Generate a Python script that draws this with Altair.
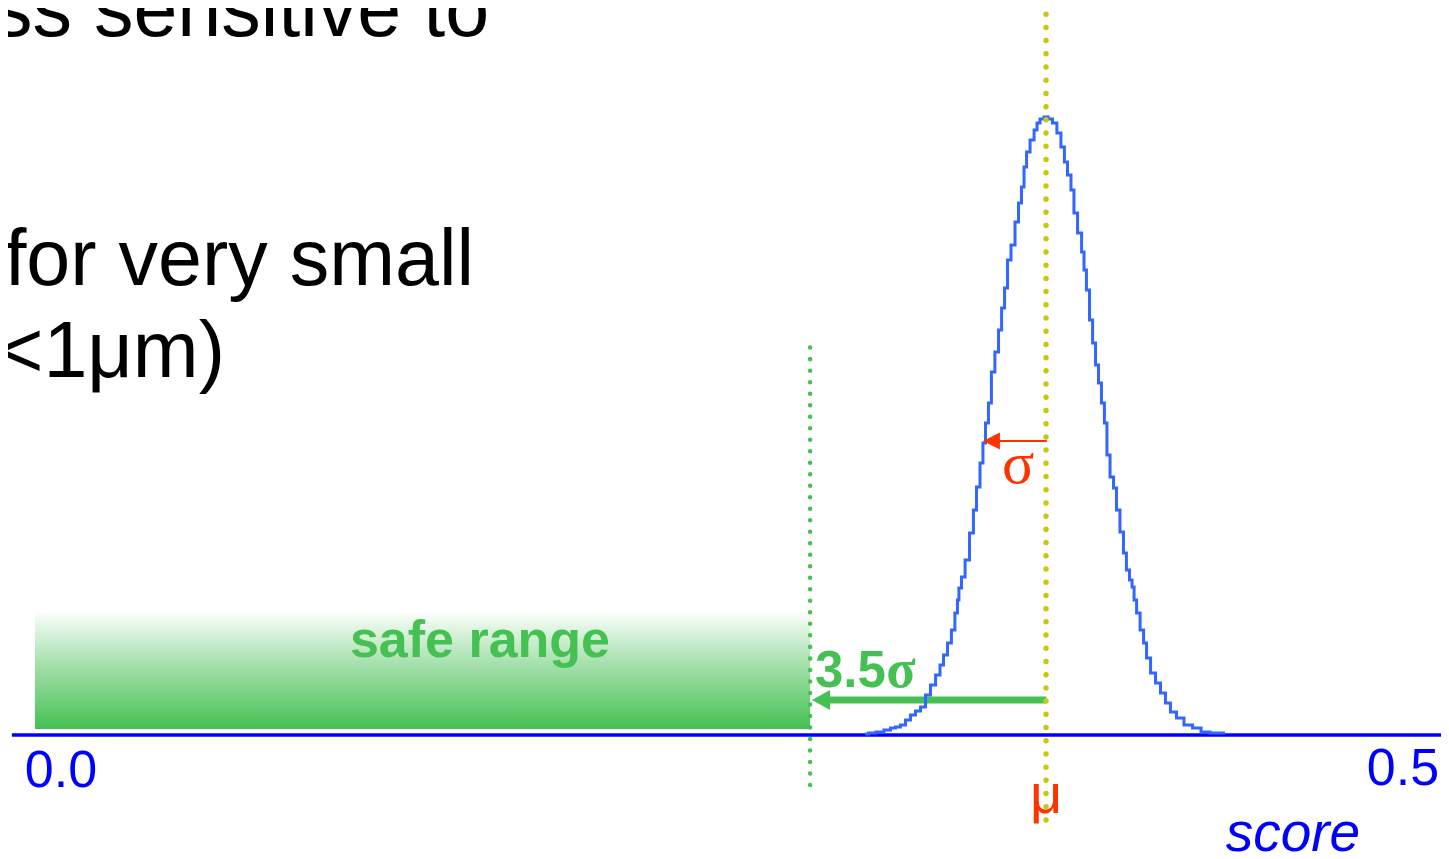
import altair as alt
import pandas as pd

# ---- histogram (score, count) ----
score = [0.2996, 0.3022, 0.3051, 0.3081, 0.3100, 0.3118, 0.3137, 0.3156, 0.3174, 0.3193,
         0.3212, 0.3230, 0.3249, 0.3268, 0.3282, 0.3294, 0.3312, 0.3323, 0.3338, 0.3342,
         0.3349, 0.3361, 0.3376, 0.3394, 0.3405, 0.3417, 0.3431, 0.3439, 0.3450, 0.3461,
         0.3472, 0.3487, 0.3499, 0.3510, 0.3521, 0.3532, 0.3547, 0.3562, 0.3573, 0.3584,
         0.3592, 0.3603, 0.3618, 0.3633, 0.3640, 0.3655, 0.3670,
         0.3685, 0.3703, 0.3718, 0.3733, 0.3744, 0.3756, 0.3770, 0.3778, 0.3797, 0.3808,
         0.3815, 0.3826, 0.3838, 0.3849, 0.3860, 0.3871, 0.3882, 0.3893, 0.3901, 0.3916,
         0.3927, 0.3938, 0.3953, 0.3964, 0.3975, 0.3987, 0.3994, 0.4002, 0.4013, 0.4028,
         0.4039, 0.4050, 0.4069, 0.4087, 0.4106, 0.4124, 0.4143, 0.4169, 0.4199, 0.4233,
         0.4262, 0.4300, 0.4337]
count = [1, 2, 3, 5, 7, 8, 10, 15, 20, 24,
         28, 40, 50, 60, 70, 80, 92, 105, 122, 135,
         147, 158, 175, 202, 225, 248, 272, 292, 312, 332,
         363, 383, 405, 427, 447, 475, 490, 513, 532, 548,
         568, 583, 595, 605, 612, 616, 618,
         616, 612, 602, 588, 573, 560, 545, 522, 502, 483,
         465, 445, 415, 392, 370, 352, 332, 312, 280, 258,
         247, 225, 203, 182, 165, 155, 148, 135, 122, 105,
         92, 77, 62, 52, 42, 32, 23, 17, 10, 7,
         3, 2, 2]

# ---- reference values ----
mu = 0.3670
safe_limit = 0.2791
sigma_tip = 0.3435
sigma_tail = 0.3491
arrow_tip = 0.2798
arrow_tail = 0.2850

tick_values = [0.0, 0.5]
tick_labels = ["0.0", "0.5"]

# slide text (partly cut off at the left / top)
slide_lines = ["ss sensitive to", "for very small", "<1\u03bcm)"]
slide_x = [0.1595, 0.1539, 0.0611]
slide_y = [699, 450, 358]

X_DOMAIN = [-0.019747, 0.514158]
Y_DOMAIN = [-124, 727]

GREEN = "#45c153"
BLUE_AXIS = "#0000ff"
CURVE = "#3366ff"
YELLOW = "#c8c814"
RED = "#ff3300"

xs = alt.Scale(domain=X_DOMAIN, nice=False, zero=False)
ys = alt.Scale(domain=Y_DOMAIN, nice=False, zero=False)


def X(f):
    return alt.X(f, type="quantitative", scale=xs, axis=None)


def Y(f):
    return alt.Y(f, type="quantitative", scale=ys, axis=None)


hist = pd.DataFrame({"score": score, "count": count})

# safe range gradient box
safe_df = pd.DataFrame({"x": [-0.0097], "x2": [safe_limit], "y": [6], "y2": [125]})
safe = alt.Chart(safe_df).mark_rect(
    color=alt.LinearGradient(
        gradient="linear",
        stops=[alt.GradientStop(color="#ffffff", offset=0),
               alt.GradientStop(color="#a6e0ad", offset=0.45),
               alt.GradientStop(color=GREEN, offset=1)],
        x1=0, x2=0, y1=0, y2=1),
).encode(x=X("x"), x2="x2", y=Y("y"), y2="y2")

curve = alt.Chart(hist).mark_line(
    interpolate="step", color=CURVE, strokeWidth=3
).encode(x=X("score"), y=Y("count"))

axis_df = pd.DataFrame({"x": [-0.0183], "x2": [0.5157], "y": [0]})
axis_line = alt.Chart(axis_df).mark_rule(color=BLUE_AXIS, strokeWidth=3.5).encode(
    x=X("x"), x2="x2", y=Y("y"))

mu_df = pd.DataFrame({"x": [mu], "y": [-85], "y2": [740]})
mu_line = alt.Chart(mu_df).mark_rule(
    color=YELLOW, strokeWidth=5.5, strokeDash=[0.01, 13.2], strokeCap="round"
).encode(x=X("x"), y=Y("y"), y2="y2")

safe_line_df = pd.DataFrame({"x": [safe_limit], "y": [-50], "y2": [390]})
safe_line = alt.Chart(safe_line_df).mark_rule(
    color=GREEN, strokeWidth=4.5, strokeDash=[0.01, 11.5], strokeCap="round"
).encode(x=X("x"), y=Y("y"), y2="y2")

# green 3.5 sigma arrow
g_arrow_df = pd.DataFrame({"x": [arrow_tail], "x2": [mu + 0.0001], "y": [35]})
g_arrow = alt.Chart(g_arrow_df).mark_rule(color=GREEN, strokeWidth=7).encode(
    x=X("x"), x2="x2", y=Y("y"))
g_head_df = pd.DataFrame({"x": [arrow_tip], "y": [35]})
g_head = alt.Chart(g_head_df).mark_point(
    shape="M 0 0 L 1.8 -1 L 1.8 1 Z", size=400, filled=True, color=GREEN,
    opacity=1, strokeWidth=0
).encode(x=X("x"), y=Y("y"))

# red sigma arrow
r_arrow_df = pd.DataFrame({"x": [sigma_tail], "x2": [mu + 0.0003], "y": [294]})
r_arrow = alt.Chart(r_arrow_df).mark_rule(color=RED, strokeWidth=2).encode(
    x=X("x"), x2="x2", y=Y("y"))
r_head_df = pd.DataFrame({"x": [sigma_tip], "y": [294]})
r_head = alt.Chart(r_head_df).mark_point(
    shape="M 0 0 L 2 -1 L 2 1 Z", size=289, filled=True, color=RED,
    opacity=1, strokeWidth=0
).encode(x=X("x"), y=Y("y"))


def text_layer(df, **kw):
    return alt.Chart(df).mark_text(baseline="alphabetic", **kw).encode(
        x=X("x"), y=Y("y"), text="t:N")


slide_df = pd.DataFrame({"x": slide_x, "y": slide_y, "t": slide_lines})
slide = text_layer(slide_df, align="right", font="Liberation Sans", fontSize=79, color="#000000")

ticks_df = pd.DataFrame({"x": tick_values, "y": [-52, -50], "t": tick_labels})
ticks = text_layer(ticks_df, align="center", font="Liberation Sans", fontSize=52, color=BLUE_AXIS)

title_df = pd.DataFrame({"x": [0.4590], "y": [-116], "t": ["score"]})
title = text_layer(title_df, align="center", font="Liberation Sans", fontSize=55,
                   fontStyle="italic", color=BLUE_AXIS)

safe_txt_df = pd.DataFrame({"x": [0.1561], "y": [78], "t": ["safe range"]})
safe_txt = text_layer(safe_txt_df, align="center", font="Liberation Sans", fontSize=52,
                      fontWeight="bold", color=GREEN)

n35_df = pd.DataFrame({"x": [0.2809], "y": [48], "t": ["3.5"]})
n35 = text_layer(n35_df, align="left", font="Liberation Sans", fontSize=51,
                 fontWeight="bold", color=GREEN)
s35_df = pd.DataFrame({"x": [0.3075], "y": [48], "t": ["\u03c3"]})
s35 = text_layer(s35_df, align="left", font="Liberation Serif", fontSize=54,
                 fontWeight="bold", color=GREEN)

sig_df = pd.DataFrame({"x": [0.3566], "y": [252], "t": ["\u03c3"]})
sig = text_layer(sig_df, align="center", font="Liberation Serif", fontSize=60, color=RED)

mu_txt_df = pd.DataFrame({"x": [mu], "y": [-78], "t": ["\u03bc"]})
mu_txt = text_layer(mu_txt_df, align="center", font="Liberation Sans", fontSize=56, color=RED)

chart = alt.layer(
    safe, axis_line, safe_line, g_arrow, g_head, curve, mu_line, r_arrow, r_head,
    slide, ticks, title, safe_txt, n35, s35, sig, mu_txt
).properties(
    width=1433, height=851, padding=0,
    autosize=alt.AutoSizeParams(type="none"),
).configure_view(stroke=None)

chart.save("out.html", embed_options={"renderer": "svg", "actions": False})
